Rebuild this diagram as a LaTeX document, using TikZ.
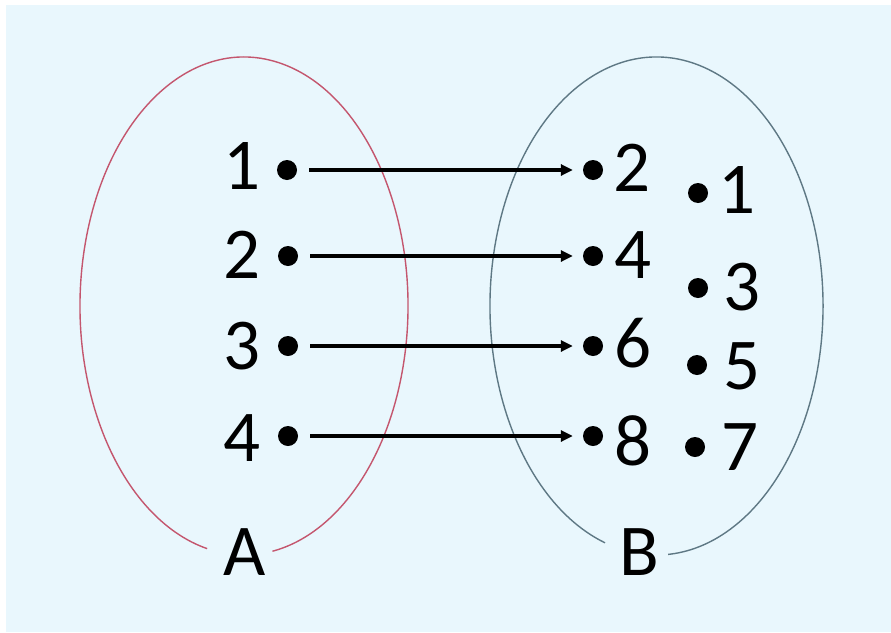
\documentclass[tikz,border=0pt]{standalone}
\usepackage{fontspec}
\setmainfont{Carlito}
\usetikzlibrary{arrows.meta}
\definecolor{bg}{HTML}{E9F7FD}
\definecolor{redA}{HTML}{C4566E}
\definecolor{greyB}{HTML}{5E7884}
\begin{document}
\begin{tikzpicture}[x=1pt,y=-1pt,
  num/.style={font=\fontsize{73}{73}\selectfont, inner sep=0pt},
  dotnode/.style={circle,fill=black,minimum size=20pt,inner sep=0pt},
  map/.style={line width=3.3pt,-{Triangle[length=12pt,width=11pt]},shorten <=12pt,shorten >=10pt},
  setline/.style={line width=1.4pt}]
\useasboundingbox (0,0) rectangle (891,632);
\fill[white] (0,0) rectangle (891,632);
\fill[bg] (6,5) rectangle (891,632);
% set outlines
\draw[setline,redA] ([shift={(103:164 and 249)}]244,306) arc[start angle=103,end angle=440,x radius=164,y radius=249];
\draw[setline,greyB] ([shift={(108:166.5 and 249)}]656.5,306) arc[start angle=108,end angle=446,x radius=166.5,y radius=249];
\node[num] (A) at (245,552) {A};
\node[num] (B) at (639,552) {B};
% left set
\node[dotnode] (l1) at (287,170) {};
\node[dotnode] (l2) at (288,256) {};
\node[dotnode] (l3) at (288,346) {};
\node[dotnode] (l4) at (288,436) {};
\node[num] (tl1) at (242,166) {1};
\node[num] (tl2) at (242,255) {2};
\node[num] (tl3) at (242,346) {3};
\node[num] (tl4) at (242,438) {4};
% right set, mapped column
\node[dotnode] (r2) at (593,170) {};
\node[dotnode] (r4) at (593,256) {};
\node[dotnode] (r6) at (593,346) {};
\node[dotnode] (r8) at (593,436) {};
\node[num] (tr2) at (632,168) {2};
\node[num] (tr4) at (633,255) {4};
\node[num] (tr6) at (633,343) {6};
\node[num] (tr8) at (633,441) {8};
% right set, other column
\node[dotnode] (r1) at (698,193) {};
\node[dotnode] (r3) at (698,288) {};
\node[dotnode] (r5) at (697,365) {};
\node[dotnode] (r7) at (695,447) {};
\node[num] (tr1) at (737,190) {1};
\node[num] (tr3) at (742,287) {3};
\node[num] (tr5) at (742,366) {5};
\node[num] (tr7) at (740,447) {7};
% mappings
\draw[map] (l1) -- (r2);
\draw[map] (l2) -- (r4);
\draw[map] (l3) -- (r6);
\draw[map] (l4) -- (r8);
\end{tikzpicture}
\end{document}
